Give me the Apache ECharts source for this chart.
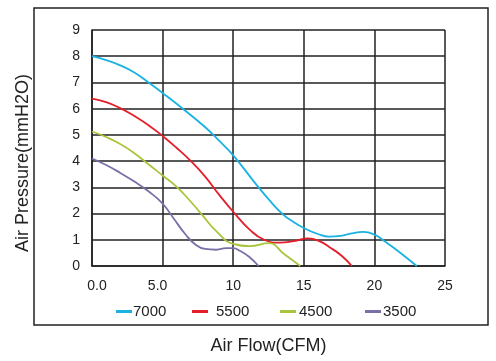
<!DOCTYPE html>
<html>
<head>
<meta charset="utf-8">
<script src="https://cdn.jsdelivr.net/npm/echarts@6/dist/echarts.min.js"></script>
<style>html,body{margin:0;padding:0;background:#fff}#c{width:496px;height:361px}</style>
</head>
<body>
<div id="c"></div>
<script>
var xTicks = ['0.0', '5.0', '10', '15', '20', '25'];
var yTicks = [0, 1, 2, 3, 4, 5, 6, 7, 8, 9];
var seriesNames = ['7000', '5500', '4500', '3500'];

var x7000 = [0, 1, 2, 3, 4, 5, 6.5, 8, 9, 10, 11.5, 12.5, 13.5, 14.3, 15, 16, 16.8, 17.6, 18.4, 19.2, 20, 20.7, 21.6, 23];
var y7000 = [8, 7.85, 7.65, 7.38, 7.0, 6.6, 5.97, 5.3, 4.78, 4.22, 3.2, 2.55, 1.98, 1.67, 1.45, 1.22, 1.12, 1.15, 1.24, 1.3, 1.2, 0.95, 0.6, 0];

var x5500 = [0, 1, 2, 3, 4, 5, 6, 7, 8, 9, 10, 11.2, 12.2, 13.3, 14.3, 15.3, 16.1, 16.85, 17.7, 18.4];
var y5500 = [6.38, 6.25, 6.02, 5.72, 5.37, 4.96, 4.5, 4.0, 3.42, 2.72, 2.07, 1.37, 1.0, 0.89, 0.95, 1.05, 0.95, 0.71, 0.38, 0];

var x4500 = [0, 1, 2, 3, 4, 5, 6, 7, 7.8, 8.8, 10, 11.2, 12.5, 13.6, 14.75];
var y4500 = [5.13, 4.92, 4.65, 4.3, 3.88, 3.45, 3.02, 2.45, 1.95, 1.33, 0.84, 0.76, 0.87, 0.46, 0];

var x3500 = [0, 1, 2, 3, 4, 5, 5.8, 6.6, 7.3, 8, 8.8, 9.5, 10, 10.5, 11.1, 11.8];
var y3500 = [4.1, 3.85, 3.55, 3.22, 2.85, 2.38, 1.8, 1.22, 0.83, 0.65, 0.62, 0.68, 0.68, 0.57, 0.36, 0];

var colors = ['#19b2e2', '#e41f2b', '#a8c63c', '#7a70a8'];

function pairs(xs, ys) { return xs.map(function (v, i) { return [v, ys[i]]; }); }
var dataSets = [pairs(x7000, y7000), pairs(x5500, y5500), pairs(x4500, y4500), pairs(x3500, y3500)];

var font = 'Liberation Sans, Arial, sans-serif';
var legendLefts = [111, 187, 275, 360];
var legendPads = [[0, 0, 0, -4], [0, 0, 0, 3], [0, 0, 0, -2], [0, 0, 0, -3]];

var chart = echarts.init(document.getElementById('c'), null, { renderer: 'canvas' });
chart.setOption({
  animation: false,
  backgroundColor: '#fff',
  grid: { left: 92, top: 30, right: 51, bottom: 95, containLabel: false },
  legend: seriesNames.map(function (n, i) {
    return {
      data: [n], left: legendLefts[i], top: 299, icon: 'rect',
      itemWidth: 16, itemHeight: 3, itemGap: 0,
      textStyle: { fontFamily: font, fontSize: 15, color: '#222', padding: legendPads[i] }
    };
  }),
  graphic: [{
    type: 'rect', shape: { x: 34, y: 8, width: 454, height: 317 },
    style: { fill: 'none', stroke: '#222', lineWidth: 1.5 }, silent: true, z: -1
  }],
  xAxis: {
    type: 'value', min: 0, max: 25, interval: 5,
    name: 'Air Flow(CFM)', nameLocation: 'middle', nameGap: 71,
    nameTextStyle: { fontFamily: font, fontSize: 18, color: '#222' },
    axisLine: { show: true, lineStyle: { color: '#222', width: 1.5 } },
    axisTick: { show: false },
    splitLine: { show: true, lineStyle: { color: '#222', width: 1.5 } },
    axisLabel: {
      margin: 13, fontFamily: font, fontSize: 14, color: '#222',
      formatter: function (v) {
        var i = Math.round(v / 5);
        var t = xTicks[i];
        if (i === 0) return '{a|' + t + '}';
        if (i === 1) return '{b|' + t + '}';
        return t;
      },
      rich: {
        a: { fontFamily: font, fontSize: 14, color: '#222', padding: [0, 0, 0, 10] },
        b: { fontFamily: font, fontSize: 14, color: '#222', padding: [0, 10, 0, 0] }
      }
    }
  },
  yAxis: {
    type: 'value', min: 0, max: 9, interval: 1,
    name: 'Air Pressure(mmH2O)', nameLocation: 'middle', nameGap: 60, nameRotate: 90,
    nameTextStyle: { fontFamily: font, fontSize: 18, color: '#222', padding: [0, 30, 0, 0] },
    axisLine: { show: true, lineStyle: { color: '#222', width: 1.5 } },
    axisTick: { show: false },
    splitLine: { show: true, lineStyle: { color: '#222', width: 1.5 } },
    axisLabel: {
      margin: 12, fontFamily: font, fontSize: 14, color: '#222',
      formatter: function (v) { return String(yTicks[Math.round(v)]); }
    }
  },
  series: seriesNames.map(function (n, i) {
    return {
      name: n, type: 'line', data: dataSets[i], smooth: 0.5,
      showSymbol: false, symbol: 'none', clip: true,
      lineStyle: { color: colors[i], width: 1.8 }, itemStyle: { color: colors[i] }
    };
  })
});
</script>
</body>
</html>
